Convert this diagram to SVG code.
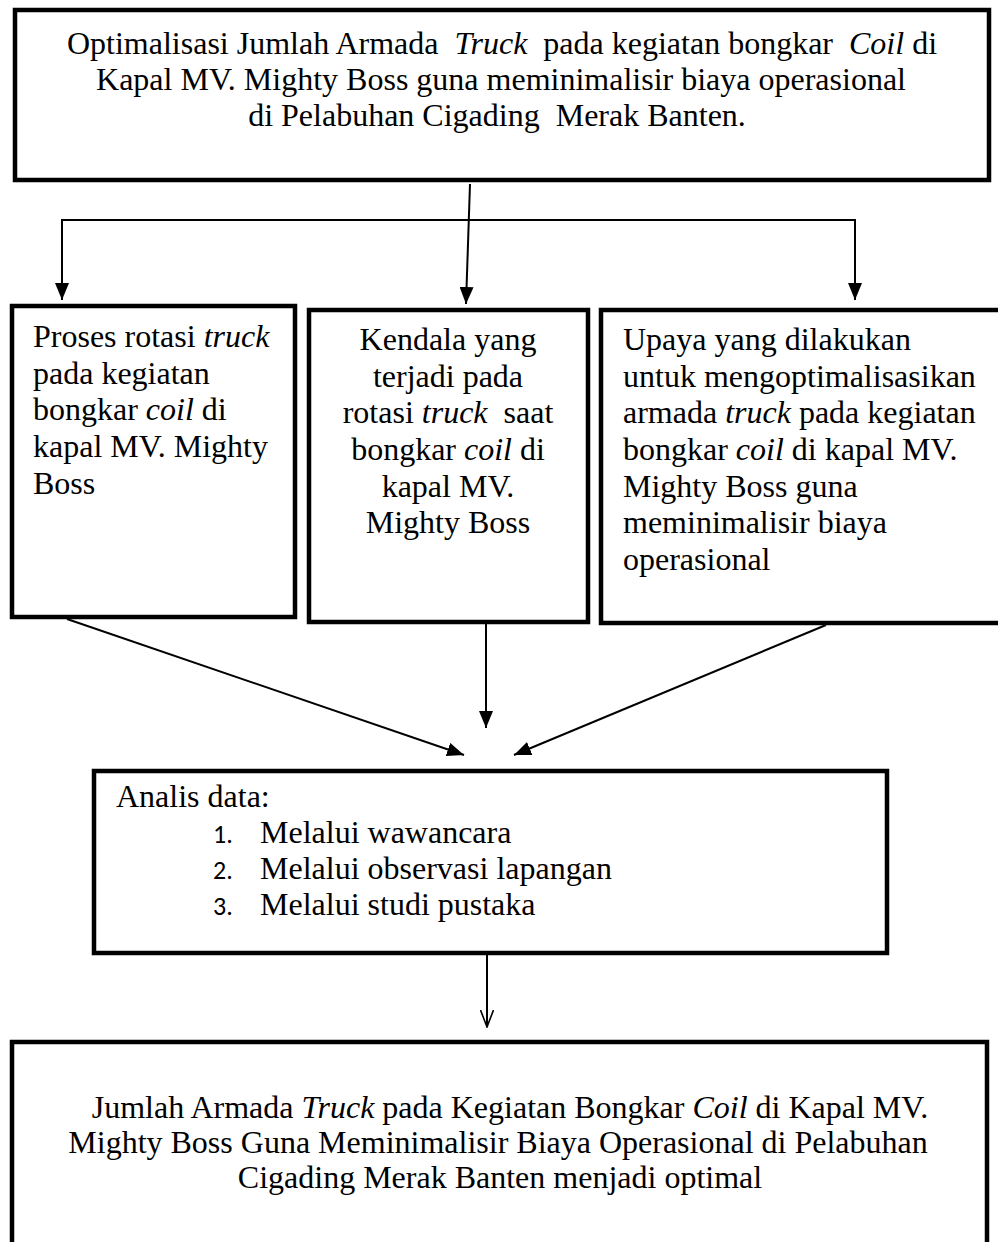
<svg xmlns="http://www.w3.org/2000/svg" width="998" height="1242" viewBox="0 0 998 1242">
<style>
.box{fill:#fff;stroke:#000;stroke-width:4.5}
.t{font-family:"Liberation Serif","Times New Roman",serif;font-size:32px;fill:#000;white-space:pre}
.n{font-family:"Carlito","Liberation Sans",sans-serif;font-size:26px;fill:#000}
.c{stroke:#000;stroke-width:2;fill:none}
.m{text-anchor:middle}
</style>
<defs>
<marker id="ahf" markerWidth="17" markerHeight="14" refX="17" refY="7" orient="auto" markerUnits="userSpaceOnUse" viewBox="0 0 17 14">
<path d="M0,0 L17,7 L0,14 Z" fill="#000"/>
</marker>
<marker id="ahv" markerWidth="18" markerHeight="14" refX="17" refY="7" orient="auto" markerUnits="userSpaceOnUse" viewBox="0 0 18 14">
<path d="M0,0.5 L17,7 L0,13.5" fill="none" stroke="#000" stroke-width="1.6"/>
</marker>
</defs>
<rect width="998" height="1242" fill="#fff"/>

<g id="connectors">
<line class="c" x1="470" y1="184" x2="466" y2="304" marker-end="url(#ahf)"/>
<line class="c" x1="61" y1="220" x2="856" y2="220"/>
<line class="c" x1="62" y1="220" x2="62" y2="300" marker-end="url(#ahf)"/>
<line class="c" x1="855" y1="220" x2="855" y2="300" marker-end="url(#ahf)"/>
<line class="c" x1="67" y1="619" x2="464" y2="755" marker-end="url(#ahf)"/>
<line class="c" x1="486" y1="624" x2="486" y2="728" marker-end="url(#ahf)"/>
<line class="c" x1="826" y1="625" x2="514" y2="755" marker-end="url(#ahf)"/>
<line class="c" x1="487" y1="955" x2="487" y2="1027" stroke-width="1.6" marker-end="url(#ahv)"/>
</g>

<g id="node-top">
<rect class="box" x="15" y="10" width="974" height="170"/>
<text class="t m" x="502" y="54">Optimalisasi Jumlah Armada  <tspan font-style="italic">Truck</tspan>  pada kegiatan bongkar  <tspan font-style="italic">Coil</tspan> di</text>
<text class="t m" x="501" y="90">Kapal MV. Mighty Boss guna meminimalisir biaya operasional</text>
<text class="t m" x="497" y="126">di Pelabuhan Cigading  Merak Banten.</text>
</g>

<g id="node-proses">
<rect class="box" x="12" y="306" width="283" height="311"/>
<text class="t" x="33" y="347">Proses rotasi <tspan font-style="italic">truck</tspan></text>
<text class="t" x="33" y="384">pada kegiatan</text>
<text class="t" x="33" y="420">bongkar <tspan font-style="italic">coil</tspan> di</text>
<text class="t" x="33" y="457">kapal MV. Mighty</text>
<text class="t" x="33" y="494">Boss</text>
</g>

<g id="node-kendala">
<rect class="box" x="309" y="310" width="279" height="312"/>
<text class="t m" x="448" y="350">Kendala yang</text>
<text class="t m" x="448" y="387">terjadi pada</text>
<text class="t m" x="448" y="423">rotasi <tspan font-style="italic">truck</tspan>  saat</text>
<text class="t m" x="448" y="460">bongkar <tspan font-style="italic">coil</tspan> di</text>
<text class="t m" x="448" y="497">kapal MV.</text>
<text class="t m" x="448" y="533">Mighty Boss</text>
</g>

<g id="node-upaya">
<rect class="box" x="601" y="310" width="420" height="313"/>
<text class="t" x="623" y="350">Upaya yang dilakukan</text>
<text class="t" x="623" y="387">untuk mengoptimalisasikan</text>
<text class="t" x="623" y="423">armada <tspan font-style="italic">truck</tspan> pada kegiatan</text>
<text class="t" x="623" y="460">bongkar <tspan font-style="italic">coil</tspan> di kapal MV.</text>
<text class="t" x="623" y="497">Mighty Boss guna</text>
<text class="t" x="623" y="533">meminimalisir biaya</text>
<text class="t" x="623" y="570">operasional</text>
</g>

<g id="node-analisis">
<rect class="box" x="94" y="771" width="793" height="182"/>
<text class="t" x="116" y="807">Analis data:</text>
<text class="n" x="213" y="843">1.</text>
<text class="t" x="260" y="843">Melalui wawancara</text>
<text class="n" x="213" y="879">2.</text>
<text class="t" x="260" y="879">Melalui observasi lapangan</text>
<text class="n" x="213" y="915">3.</text>
<text class="t" x="260" y="915">Melalui studi pustaka</text>
</g>

<g id="node-hasil">
<rect class="box" x="12" y="1042" width="975" height="220"/>
<text class="t m" x="510" y="1118">Jumlah Armada <tspan font-style="italic">Truck</tspan> pada Kegiatan Bongkar <tspan font-style="italic">Coil</tspan> di Kapal MV.</text>
<text class="t m" x="498" y="1153">Mighty Boss Guna Meminimalisir Biaya Operasional di Pelabuhan</text>
<text class="t m" x="500" y="1188">Cigading Merak Banten menjadi optimal</text>
</g>
</svg>
